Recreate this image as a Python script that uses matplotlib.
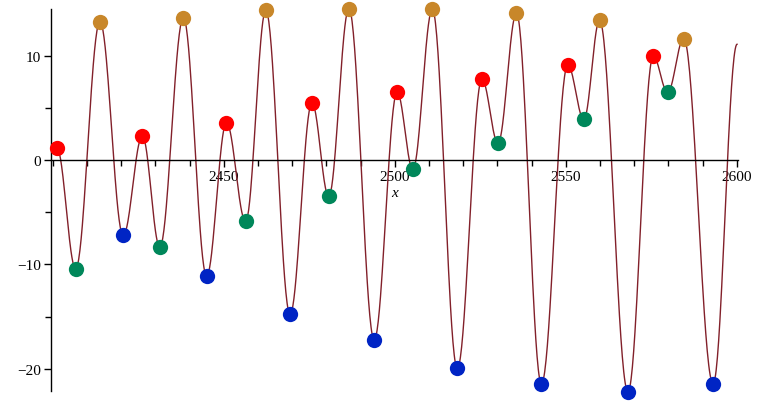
import numpy as np
import matplotlib
matplotlib.use("Agg")
import matplotlib.pyplot as plt
from matplotlib.ticker import MultipleLocator, FixedLocator

# Extrema of the curve (x, y), in order along x
ext_x = [2401.2, 2406.7, 2413.8, 2420.6, 2426.2, 2431.3, 2438.2, 2445.0,
         2450.8, 2456.4, 2462.3, 2469.4, 2475.8, 2480.7, 2486.6, 2494.0,
         2500.7, 2505.3, 2511.0, 2518.3, 2525.5, 2530.2, 2535.6, 2542.9,
         2550.6, 2555.3, 2559.9, 2568.2, 2575.6, 2579.8, 2584.5, 2593.1,
         2600.1]
ext_y = [1.15, -10.41, 13.25, -7.23, 2.29, -8.34, 13.63, -11.11,
         3.56, -5.89, 14.33, -14.78, 5.47, -3.50, 14.49, -17.22,
         6.49, -0.89, 14.42, -19.96, 7.74, 1.62, 14.04, -21.42,
         9.10, 3.89, 13.37, -22.19, 9.93, 6.47, 11.62, -21.42,
         11.08]
# Marker category of each extremum (last entry is curve end, no marker)
ext_kind = ["red", "green", "gold", "blue"] * 8 + [None]

colors = {"red": "#ff0000", "green": "#00875a", "gold": "#c8872a", "blue": "#0024c4"}

# Build the curve: half-cosine shape between consecutive extrema
cx, cy = [], []
for i in range(len(ext_x) - 1):
    t = np.linspace(0, 1, 40, endpoint=(i == len(ext_x) - 2))
    x0, x1 = ext_x[i], ext_x[i + 1]
    y0, y1 = ext_y[i], ext_y[i + 1]
    cx.append(x0 + (x1 - x0) * t)
    cy.append(y0 + (y1 - y0) * (1 - np.cos(np.pi * t)) / 2)
cx = np.concatenate(cx)
cy = np.concatenate(cy)

fig = plt.figure(figsize=(7.6, 4.02), dpi=100)
ax = fig.add_axes([0.0667, 0.0256, 0.9040, 0.9494])
ax.plot(cx, cy, color="#82202a", lw=1.0, zorder=2)

for k in ["red", "green", "gold", "blue"]:
    xs = [x for x, kk in zip(ext_x, ext_kind) if kk == k]
    ys = [y for y, kk in zip(ext_y, ext_kind) if kk == k]
    ax.plot(xs, ys, "o", color=colors[k], ms=11, mec="none", zorder=3, clip_on=False)

ax.set_xlim(2399.4, 2600.3)
ax.set_ylim(-22.1, 14.45)

ax.spines["top"].set_visible(False)
ax.spines["right"].set_visible(False)
ax.spines["bottom"].set_position(("data", 0))
ax.spines["left"].set_linewidth(1.0)
ax.spines["bottom"].set_linewidth(1.0)

ax.xaxis.set_major_locator(FixedLocator([2450, 2500, 2550, 2600]))
ax.xaxis.set_minor_locator(MultipleLocator(10))
ax.yaxis.set_major_locator(FixedLocator([-20, -10, 0, 10]))
ax.yaxis.set_minor_locator(FixedLocator([-15, -5, 5]))
ax.tick_params(axis="both", which="major", length=5, width=1, direction="out",
               labelsize=11)
ax.tick_params(axis="both", which="minor", length=4, width=1, direction="out")
for lab in ax.get_xticklabels() + ax.get_yticklabels():
    lab.set_fontfamily("Liberation Serif")
ax.tick_params(axis="x", pad=2)
ax.tick_params(axis="y", pad=2)

ax.text(2500, -3.1, "x", fontsize=11, fontstyle="italic",
        fontfamily="Liberation Serif", ha="center", va="center")

ax.set_facecolor("white")
fig.savefig("out.png", dpi=100)
